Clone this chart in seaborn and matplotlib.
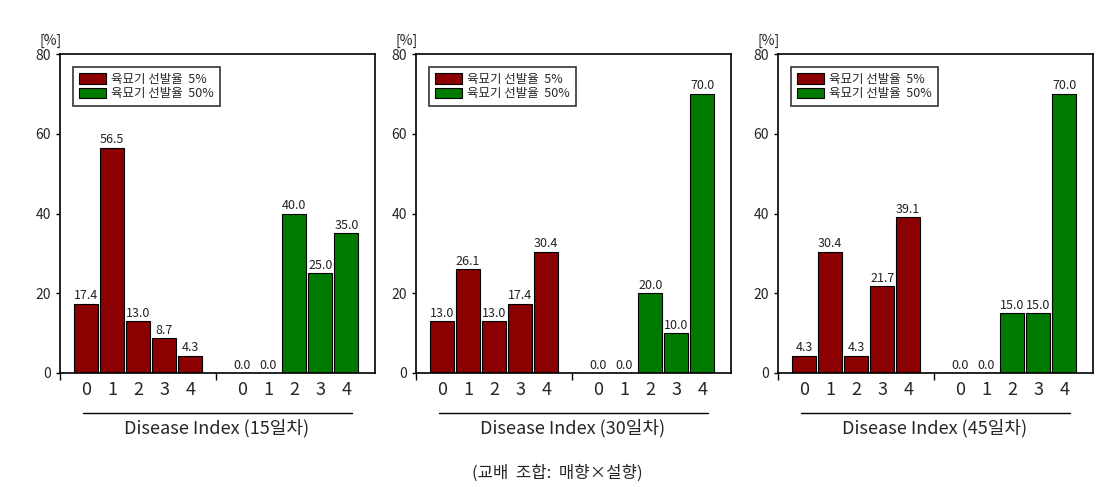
import matplotlib
matplotlib.use("Agg")
import matplotlib.pyplot as plt
import matplotlib.transforms as mtransforms
import seaborn as sns
import pandas as pd

sns.set_theme(style="ticks")
plt.rcParams['font.family'] = ['Noto Sans CJK KR', 'DejaVu Sans']

# ---- data ----
disease_index = ["0", "1", "2", "3", "4"]
series_names = ["육묘기 선발율  5%", "육묘기 선발율  50%"]
day_labels = ["Disease Index (15일차)", "Disease Index (30일차)", "Disease Index (45일차)"]
sel5_day15 = [17.4, 56.5, 13.0, 8.7, 4.3]
sel50_day15 = [0.0, 0.0, 40.0, 25.0, 35.0]
sel5_day30 = [13.0, 26.1, 13.0, 17.4, 30.4]
sel50_day30 = [0.0, 0.0, 20.0, 10.0, 70.0]
sel5_day45 = [4.3, 30.4, 4.3, 21.7, 39.1]
sel50_day45 = [0.0, 0.0, 15.0, 15.0, 70.0]
y_ticks = [0, 20, 40, 60, 80]
caption = "(교배  조합:  매향×설향)"

panels = [(sel5_day15, sel50_day15), (sel5_day30, sel50_day30), (sel5_day45, sel50_day45)]
colors = ["#8B0000", "#007A00"]

fig = plt.figure(figsize=(11.15, 4.87), dpi=100)
lefts = [60 / 1115, 416 / 1115, 778 / 1115]
bottom = 1 - 373 / 487
height = (373 - 54) / 487
width = 315 / 1115

order = [f"a{d}" for d in disease_index] + ["gap"] + [f"b{d}" for d in disease_index]

for i, (s5, s50) in enumerate(panels):
    ax = fig.add_axes([lefts[i], bottom, width, height])
    df = pd.DataFrame({
        "slot": [f"a{d}" for d in disease_index] + [f"b{d}" for d in disease_index],
        "value": list(s5) + list(s50),
        "series": [series_names[0]] * 5 + [series_names[1]] * 5,
    })
    sns.barplot(data=df, x="slot", y="value", hue="series", order=order,
                hue_order=series_names, palette=colors, dodge=False, saturation=1,
                width=0.93, edgecolor="black", linewidth=0.8, ax=ax)
    # value labels
    for cont in ax.containers:
        ax.bar_label(cont, fmt="%.1f", fontsize=9, padding=1, color="#222222")
    ax.set_ylim(0, 80)
    ax.set_xlim(-1, 11.1)
    ax.set_yticks(y_ticks)
    ax.set_yticklabels([str(v) for v in y_ticks], fontsize=10)
    pos = [0, 1, 2, 3, 4, 6, 7, 8, 9, 10]
    ax.set_xticks(pos)
    ax.set_xticklabels(disease_index * 2, fontsize=13)
    ax.tick_params(axis="x", length=0, pad=6)
    ax.set_xticks([-1, 5], minor=True)
    ax.tick_params(axis="x", which="minor", length=5, width=1, color="black", direction="out")
    ax.tick_params(axis="y", length=3, width=1, color="black", direction="out")
    ax.set_xlabel("")
    ax.set_ylabel("")
    for sp in ax.spines.values():
        sp.set_color("black")
        sp.set_linewidth(1.2)
    ax.text(-0.03, 1.02, "[%]", transform=ax.transAxes, fontsize=10, ha="center", va="bottom")
    # legend
    leg = ax.legend(loc="upper left", bbox_to_anchor=(0.02, 0.98), fontsize=9,
                    frameon=True, fancybox=False, edgecolor="black",
                    handlelength=2.2, handleheight=0.9, borderpad=0.5,
                    labelspacing=0.1, handletextpad=0.4)
    leg.get_frame().set_linewidth(1.2)
    # disease index line & label
    trans = mtransforms.blended_transform_factory(ax.transData, ax.transAxes)
    ax.plot([-0.1, 10.2], [-0.125, -0.125], transform=trans, color="black",
            linewidth=1.0, clip_on=False)
    ax.text(5, -0.145, day_labels[i], transform=trans, ha="center", va="top", fontsize=13)

fig.text(0.5, 1 - 473 / 487, caption, ha="center", va="center", fontsize=12)

fig.savefig("out.png", dpi=100)
